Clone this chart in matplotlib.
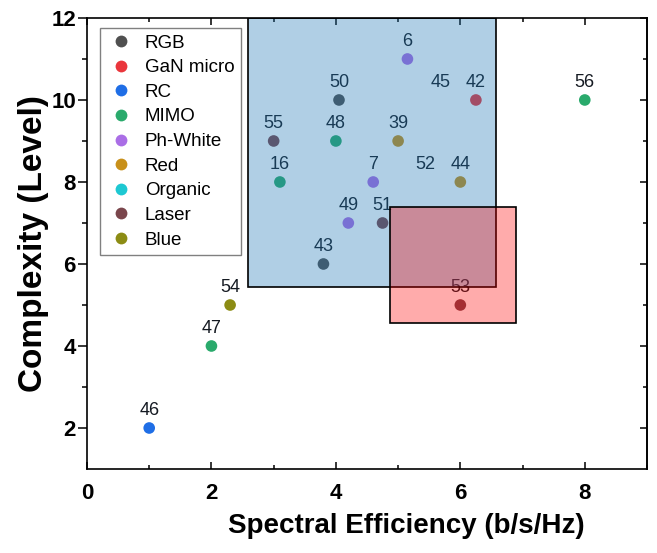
import matplotlib
matplotlib.use("Agg")
import matplotlib.pyplot as plt
from matplotlib.patches import Rectangle
from matplotlib.lines import Line2D

plt.rcParams["font.family"] = ["Liberation Sans", "DejaVu Sans"]

# Technology categories and their colours
categories = ["RGB", "GaN micro", "RC", "MIMO", "Ph-White", "Red", "Organic", "Laser", "Blue"]
cat_colors = ["#505050", "#ea363c", "#1f6ee6", "#2aaa6c", "#aa6ee6", "#c8901a", "#1ec8d2", "#7a464c", "#8c8c14"]

# Reference points: label, spectral efficiency, complexity, category
ref_labels = ["6", "50", "42", "55", "48", "39", "16", "7", "44", "49", "51", "43", "53", "54", "47", "46", "56"]
ref_x = [5.15, 4.05, 6.25, 3.0, 4.0, 5.0, 3.1, 4.6, 6.0, 4.2, 4.75, 3.8, 6.0, 2.3, 2.0, 1.0, 8.0]
ref_y = [11, 10, 10, 9, 9, 9, 8, 8, 8, 7, 7, 6, 5, 5, 4, 2, 10]
ref_cat = ["Ph-White", "RGB", "GaN micro", "Laser", "MIMO", "Red", "MIMO", "Ph-White", "Red",
           "Ph-White", "Laser", "RGB", "Laser", "Blue", "MIMO", "RC", "MIMO"]

# References shown by label only
text_labels = ["45", "52"]
text_x = [5.68, 5.43]
text_y = [10, 8]

# Highlighted regions: (x0, y0, x1, y1)
blue_region = (2.58, 5.44, 6.58, 12.0)
red_region = (4.87, 4.56, 6.89, 7.39)

fig = plt.figure(figsize=(6.57, 5.53), dpi=100)
ax = fig.add_axes([0.1324, 0.1519, 0.8524, 0.8156])

color_of = dict(zip(categories, cat_colors))
for lab, x, y, c in zip(ref_labels, ref_x, ref_y, ref_cat):
    ax.scatter([x], [y], s=70, color=color_of[c], edgecolors="none", zorder=2)
    ax.annotate(lab, (x, y), xytext=(0, 6.5), textcoords="offset points",
                ha="center", va="bottom", fontsize=13, color="#151a22", zorder=3)
for lab, x, y in zip(text_labels, text_x, text_y):
    ax.annotate(lab, (x, y), xytext=(0, 6.5), textcoords="offset points",
                ha="center", va="bottom", fontsize=13, color="#151a22", zorder=3)

x0, y0, x1, y1 = blue_region
ax.add_patch(Rectangle((x0, y0), x1 - x0, y1 - y0, facecolor=(0.12, 0.47, 0.71, 0.35),
                       edgecolor="black", linewidth=1.2, zorder=4))
x0, y0, x1, y1 = red_region
ax.add_patch(Rectangle((x0, y0), x1 - x0, y1 - y0, facecolor=(1.0, 0.0, 0.0, 0.33),
                       edgecolor="black", linewidth=1.2, zorder=4.1))

ax.set_xlim(0, 9)
ax.set_ylim(1, 12)
ax.set_xticks([0, 2, 4, 6, 8])
ax.set_xticks([1, 3, 5, 7, 9], minor=True)
ax.set_yticks([2, 4, 6, 8, 10, 12])
ax.set_yticks([3, 5, 7, 9, 11], minor=True)

for s in ax.spines.values():
    s.set_linewidth(1.2)
    s.set_zorder(6)

ax.tick_params(axis="y", which="both", direction="out", left=True, right=False,
               labelsize=16, width=1.1)
ax.tick_params(axis="y", which="major", length=6.5, pad=1.5)
ax.tick_params(axis="y", which="minor", length=3.5)
ax.tick_params(axis="x", which="both", direction="in", bottom=True, top=True,
               labelsize=16, width=1.1, pad=10)
ax.tick_params(axis="x", which="major", length=5)
ax.tick_params(axis="x", which="minor", length=3)
for lbl in ax.get_xticklabels() + ax.get_yticklabels():
    lbl.set_fontweight("bold")

# Inward ticks on the right side
axr = ax.secondary_yaxis("right")
axr.set_yticks([2, 4, 6, 8, 10, 12])
axr.set_yticks([3, 5, 7, 9, 11], minor=True)
axr.tick_params(which="both", direction="in", labelright=False, width=1.1)
axr.tick_params(which="major", length=5)
axr.tick_params(which="minor", length=3)
axr.spines["right"].set_linewidth(1.2)

ax.set_xlabel("Spectral Efficiency (b/s/Hz)", fontsize=20, fontweight="bold")
ax.xaxis.set_label_coords(0.571, -0.098)
ax.set_ylabel("Complexity (Level)", fontsize=24, fontweight="bold")
ax.yaxis.set_label_coords(-0.068, 0.5)

handles = [Line2D([], [], linestyle="none", marker="o", markersize=8.5,
                  markerfacecolor=c, markeredgecolor="none") for c in cat_colors]
leg = ax.legend(handles, categories, loc="upper left", bbox_to_anchor=(0.0232, 0.978),
                fontsize=13.5, frameon=True, fancybox=False, edgecolor="#808080",
                framealpha=1, borderpad=0.35, labelspacing=0.4, handletextpad=0.55,
                handlelength=1.5, borderaxespad=0)
leg.get_frame().set_linewidth(1.0)
leg.set_zorder(7)

fig.savefig("out.png", dpi=100)
